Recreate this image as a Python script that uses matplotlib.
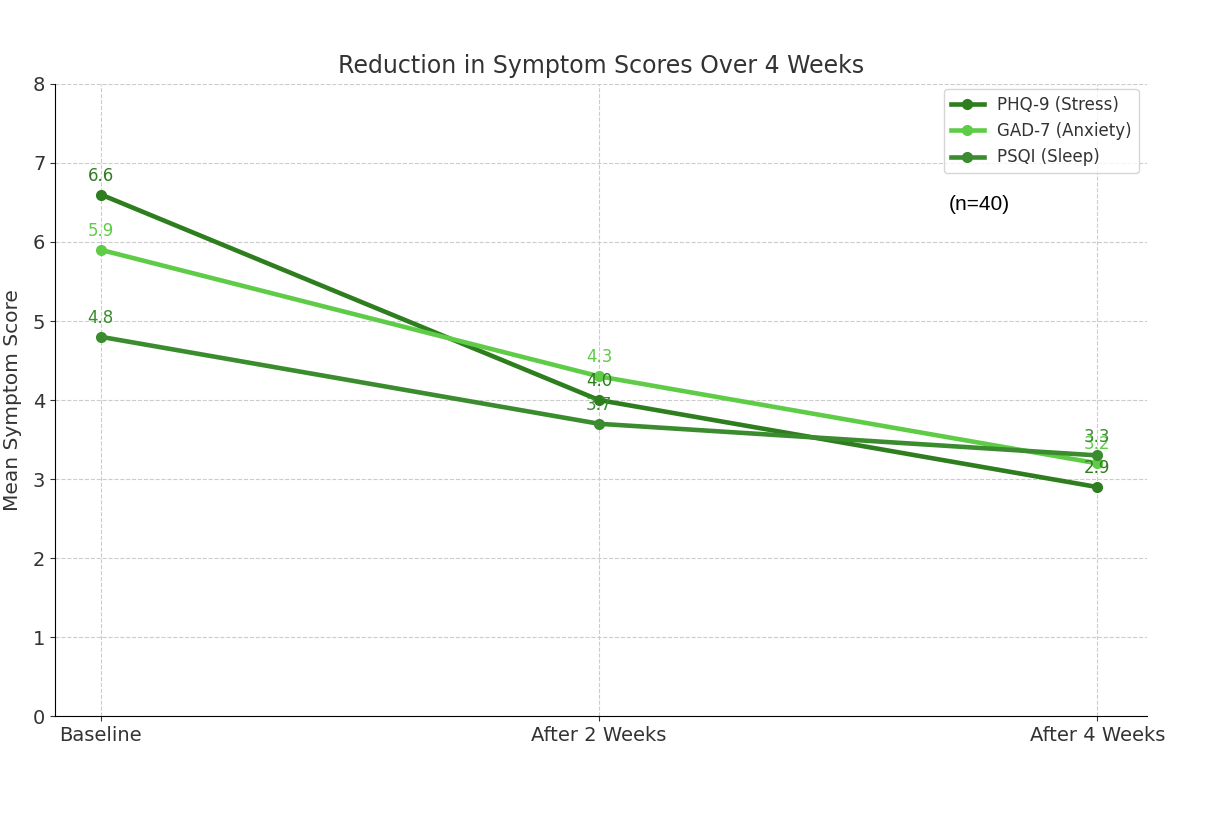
import matplotlib
matplotlib.use("Agg")
import matplotlib.pyplot as plt

etapas = ["Baseline", "After 2 Weeks", "After 4 Weeks"]
phq9 = [6.6, 4.0, 2.9]
gad7 = [5.9, 4.3, 3.2]
psqi = [4.8, 3.7, 3.3]

series = [
    ("PHQ-9 (Stress)", phq9, "#2e7d1f"),
    ("GAD-7 (Anxiety)", gad7, "#5fcc48"),
    ("PSQI (Sleep)", psqi, "#3b8c2e"),
]

fig = plt.figure(figsize=(12.06, 8.3), dpi=100)
ax = fig.add_axes([0.0456, 0.137, 0.9055, 0.762])

x = range(len(etapas))
for nome, valores, cor in series:
    ax.plot(x, valores, marker="o", color=cor, linewidth=3.3, markersize=7, label=nome)
    for xi, v in zip(x, valores):
        ax.annotate(f"{v:.1f}", (xi, v), textcoords="offset points", xytext=(0, 10),
                    ha="center", color=cor, fontsize=12)

ax.set_xticks(list(x))
ax.set_xticklabels(etapas)
ax.set_ylim(0, 8)
ax.set_xlim(-0.092, 2.1)
ax.tick_params(labelsize=14, colors="#333333")
ax.set_ylabel("Mean Symptom Score", fontsize=14.5, color="#333333", labelpad=8)
ax.set_title("Reduction in Symptom Scores Over 4 Weeks", fontsize=17, color="#333333", pad=8)
ax.grid(True, linestyle="--", color="#cccccc", linewidth=0.8)
ax.spines["top"].set_visible(False)
ax.spines["right"].set_visible(False)
leg = ax.legend(loc="upper right", fontsize=12, labelcolor="#333333",
                bbox_to_anchor=(1.0, 1.005), borderaxespad=0.5)
ax.text(0.818, 0.80, "(n=40)", transform=ax.transAxes, fontsize=15,
        family="Liberation Sans", color="black")

fig.savefig("out.png", dpi=100)
